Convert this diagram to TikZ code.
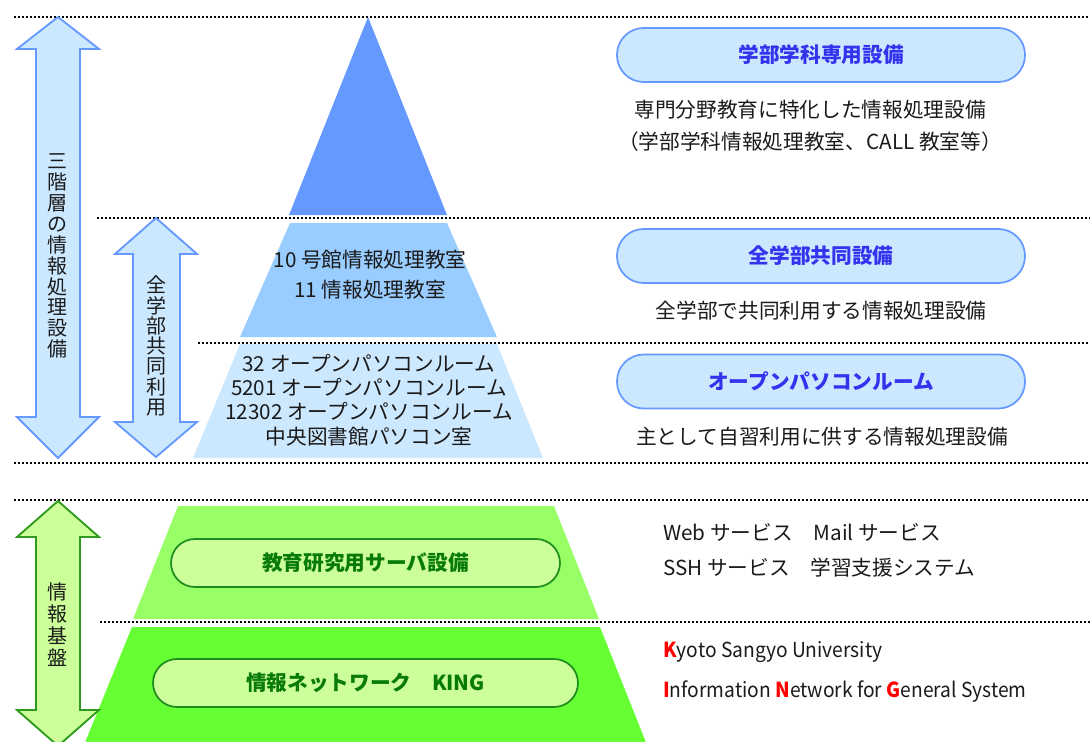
\documentclass[tikz,border=0pt]{standalone}
\usepackage{fontspec}
\setmainfont{Noto Sans CJK JP}
\newfontfamily\latn[FakeStretch=0.93]{Noto Sans CJK JP}
\definecolor{triDark}{HTML}{6699FF}
\definecolor{triMid}{HTML}{99CCFF}
\definecolor{triLight}{HTML}{CCE8FF}
\definecolor{bStroke}{HTML}{6699FF}
\definecolor{bText}{HTML}{3333EE}
\definecolor{gUpper}{HTML}{99FF66}
\definecolor{gLower}{HTML}{66FF33}
\definecolor{gPill}{HTML}{CCFF99}
\definecolor{gStroke}{HTML}{1E8C1E}
\definecolor{gArrow}{HTML}{2E9A1E}
\definecolor{gText}{HTML}{087A08}
\definecolor{txt}{HTML}{1A1A1A}
\definecolor{kred}{HTML}{FF0000}
\tikzset{
  dotline/.style={line width=1.5pt, dash pattern=on 1.6pt off 1.4pt, black},
  barrow/.style={draw=bStroke, fill=triLight, line width=1.4pt, line join=miter},
  garrow/.style={draw=gArrow, fill=gPill, line width=1.4pt, line join=miter},
  vtext/.style={align=center, text=txt, inner sep=0pt, font=\fontsize{15}{15.7}\selectfont},
  bpill/.style={draw=bStroke, fill=triLight, line width=1.3pt, rounded corners=20pt,
    minimum width=306pt, minimum height=40.5pt, inner sep=0pt,
    font=\bfseries\fontsize{15.5}{18}\selectfont, text=bText},
  gpill/.style={draw=gStroke, fill=gPill, line width=1.3pt, rounded corners=18pt,
    minimum height=36pt, inner sep=0pt,
    font=\bfseries\fontsize{15.5}{18}\selectfont, text=gText},
  desc/.style={align=center, text=txt, inner sep=0pt, font=\fontsize{15.5}{24}\selectfont},
  rdesc/.style={anchor=west, text=txt, inner sep=0pt, font=\fontsize{15.5}{20}\selectfont},
}
\begin{document}
\begin{tikzpicture}[x=0.75pt,y=-0.75pt]
\useasboundingbox (0,0) rectangle (1090,742);
\clip (0,0) rectangle (1090,742);

% dotted separators
\draw[dotline] (14,17) -- (1090,17);
\draw[dotline] (97,218) -- (1090,218);
\draw[dotline] (198,343) -- (1090,343);
\draw[dotline] (14,463) -- (1090,463);
\draw[dotline] (14,500) -- (1090,500);
\draw[dotline] (100,622) -- (1090,622);

% blue pyramid
\fill[triDark] (368,17) -- (447,215) -- (289,215) -- cycle;
\fill[triMid] (290,223) -- (447,223) -- (497,337) -- (240,337) -- cycle;
\fill[triLight] (240,344) -- (497,344) -- (543,458) -- (193,458) -- cycle;

% green base
\fill[gUpper] (178,506) -- (554,506) -- (599,619) -- (133,619) -- cycle;
\fill[gLower] (132,627) -- (600,627) -- (649,750) -- (82,750) -- cycle;

% double arrows
\draw[barrow] (58,17) -- (99,49) -- (80,49) -- (80,417) -- (99,417) -- (58,458)
  -- (17,417) -- (36,417) -- (36,49) -- (17,49) -- cycle;
\draw[barrow] (156,218) -- (197,254) -- (180,254) -- (180,422) -- (197,422) -- (156,457)
  -- (115,422) -- (133,422) -- (133,254) -- (115,254) -- cycle;
\draw[garrow] (58,501) -- (99,537) -- (80,537) -- (80,710) -- (99,710) -- (58,746)
  -- (17,710) -- (36,710) -- (36,537) -- (17,537) -- cycle;

\node[vtext] (v1) at (57.5,256) {三\\階\\層\\の\\情\\報\\処\\理\\設\\備};
\node[vtext, font=\fontsize{15}{15.2}\selectfont] (v2) at (156.5,346) {全\\学\\部\\共\\同\\利\\用};
\node[vtext, font=\fontsize{15}{16.5}\selectfont] (v3) at (57.5,625) {情\\報\\基\\盤};

% pyramid texts
\node[desc, font=\fontsize{15.5}{22.5}\selectfont] (m1) at (370,275) {10 号館情報処理教室\\11 情報処理教室};
\node[desc, font=\fontsize{15.5}{18.3}\selectfont] (m2) at (369,400) {32 オープンパソコンルーム\\5201 オープンパソコンルーム\\12302 オープンパソコンルーム\\中央図書館パソコン室};

% right pills
\node[bpill] (p1) at (821,55) {学部学科専用設備};
\node[bpill] (p2) at (821,256) {全学部共同設備};
\node[bpill] (p3) at (821,381.5) {オープンパソコンルーム};

\node[desc] (d1) at (810,126) {専門分野教育に特化した情報処理設備\\（学部学科情報処理教室、CALL 教室等）};
\node[desc] (d2) at (821,311) {全学部で共同利用する情報処理設備};
\node[desc] (d3) at (822,437) {主として自習利用に供する情報処理設備};

% green pills
\node[gpill, minimum width=291.75pt] (g1) at (365.5,563) {教育研究用サーバ設備};
\node[gpill, minimum width=318.75pt] (g2) at (365.5,683) {情報ネットワーク　KING};

% lower right texts
\node[rdesc] (r1) at (663,532) {Web サービス　Mail サービス};
\node[rdesc] (r2) at (663,568) {SSH サービス　学習支援システム};
\node[rdesc, font=\latn\fontsize{15.5}{20}\selectfont] (r3) at (663,652) {\textcolor{kred}{\bfseries K}yoto Sangyo University};
\node[rdesc, font=\latn\fontsize{15.5}{20}\selectfont] (r4) at (663,692) {\textcolor{kred}{\bfseries I}nformation \textcolor{kred}{\bfseries N}etwork for \textcolor{kred}{\bfseries G}eneral System};
\end{tikzpicture}
\end{document}
